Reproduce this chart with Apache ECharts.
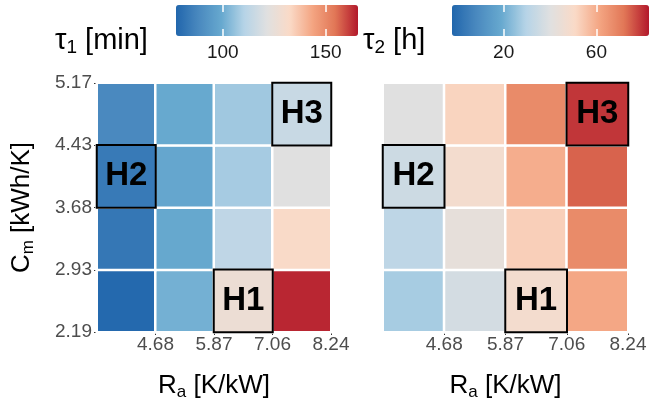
<!DOCTYPE html>
<html>
<head>
<meta charset="utf-8">
<script src="https://cdn.jsdelivr.net/npm/echarts@6/dist/echarts.min.js"></script>
<style>
  html, body { margin: 0; padding: 0; background: #fff; }
  #chart { width: 649px; height: 407px; }
</style>
</head>
<body>
<div id="chart"></div>
<script>
// Tile edges shown on the axes (R_a in K/kW, C_m in kWh/K)
const raEdgeLabels = ['', '4.68', '5.87', '7.06', '8.24'];
const cmEdgeLabels = ['2.19', '2.93', '3.68', '4.43', '5.17'];
// One category per tile between two edges
const raBins = ['3.49-4.68', '4.68-5.87', '5.87-7.06', '7.06-8.24'];
const cmBins = ['2.19-2.93', '2.93-3.68', '3.68-4.43', '4.43-5.17'];

// tau1 [min]: rows go from the lowest C_m bin upward, columns by R_a bin
const tau1Low    = [78.2, 101.2, 126.8, 164.0];
const tau1MidLow = [82.6,  99.0, 112.7, 132.0];
const tau1MidHi  = [83.5,  98.5, 108.2, 121.5];
const tau1High   = [88.4,  99.4, 107.4, 115.3];

// tau2 [h]: same layout
const tau2Low    = [27.5, 36.8, 47.9, 61.0];
const tau2MidLow = [31.7, 42.8, 53.0, 67.4];
const tau2MidHi  = [35.1, 47.9, 59.8, 74.2];
const tau2High   = [40.2, 52.1, 67.4, 79.3];

// Colour-scale limits and legend breaks
const tau1Limits = [77.3, 165.7];
const tau2Limits = [-2.3, 82.7];
const tau1Breaks = [100, 150];
const tau2Breaks = [20, 60];

// Marked houses: [R_a bin index, C_m bin index]
const houseNames = ['H1', 'H2', 'H3'];
const houseRa = [2, 0, 3];
const houseCm = [0, 2, 3];

// Diverging red-blue ramp with a grey centre
const ramp = ['#2166AC', '#4A89BF', '#67A9CF', '#B6D4E7', '#E0E0E0',
              '#FADAC7', '#F4A582', '#E17656', '#B2182B'];

const FONT = "'Liberation Sans', Arial, Helvetica, sans-serif";

function tiles(rows) {
  const out = [];
  rows.forEach((row, cm) => row.forEach((v, ra) => out.push([ra, cm, v])));
  return out;
}
function houses(rows) {
  return houseNames.map((n, i) => ({
    name: n,
    value: [houseRa[i], houseCm[i], rows[houseCm[i]][houseRa[i]]]
  }));
}
const tau1Rows = [tau1Low, tau1MidLow, tau1MidHi, tau1High];
const tau2Rows = [tau2Low, tau2MidLow, tau2MidHi, tau2High];

const richSub = {
  m: { fontSize: 26, fontFamily: FONT, fontWeight: 'normal', color: '#000', lineHeight: 30 },
  s: { fontSize: 17, fontFamily: FONT, fontWeight: 'normal', color: '#000', lineHeight: 17, verticalAlign: 'bottom' }
};
const richLegend = {
  m: { fontSize: 29, fontFamily: FONT, fontWeight: 'normal', color: '#000', lineHeight: 32 },
  s: { fontSize: 19, fontFamily: FONT, fontWeight: 'normal', color: '#000', lineHeight: 17, verticalAlign: 'bottom' }
};

const plotGrids = [
  { left: 97, top: 83, width: 234, height: 249 },
  { left: 383, top: 83, width: 245, height: 249 }
];
const barGrids = [
  { left: 176, top: 5, width: 182, height: 31 },
  { left: 452, top: 5, width: 197, height: 31 }
];

const grid = plotGrids.concat(barGrids).map(g => Object.assign({ outerBoundsMode: 'none', containLabel: false }, g));

const xAxis = [];
const yAxis = [];
[0, 1].forEach(p => {
  // tile axes (hidden)
  xAxis.push({ type: 'category', gridIndex: p, data: raBins, show: false });
  yAxis.push({ type: 'category', gridIndex: p, data: cmBins, show: false });
});
[0, 1].forEach(p => {
  // edge label axes
  xAxis.push({
    type: 'category', gridIndex: p, data: raEdgeLabels, boundaryGap: false, position: 'bottom',
    axisLine: { show: false },
    axisTick: { show: true, length: 3, lineStyle: { color: '#333', width: 1 }, interval: (i) => i > 0 },
    axisLabel: { color: '#4d4d4d', fontSize: 19, fontFamily: FONT, margin: 3, interval: 0 },
    splitLine: { show: false },
    name: '{m|R}{s|a}{m| [K/kW]}', nameLocation: 'middle', nameGap: 39,
    nameTextStyle: { rich: richSub }
  });
  yAxis.push({
    type: 'category', gridIndex: p, data: cmEdgeLabels, boundaryGap: false, position: 'left',
    show: p === 0,
    axisLine: { show: false },
    axisTick: { show: true, length: 3, lineStyle: { color: '#333', width: 1 } },
    axisLabel: { color: '#4d4d4d', fontSize: 19, fontFamily: FONT, margin: 5, interval: 0 },
    splitLine: { show: false },
    name: p === 0 ? '{m|C}{s|m}{m| [kWh/K]}' : '', nameLocation: 'middle', nameGap: 60,
    nameTextStyle: { rich: richSub }
  });
});
// colour-bar break axes
[[tau1Limits, tau1Breaks], [tau2Limits, tau2Breaks]].forEach(([lim, br], k) => {
  const gi = 2 + k;
  xAxis.push({
    type: 'value', gridIndex: gi, min: lim[0], max: lim[1], position: 'bottom', z: 10,
    axisLine: { show: false }, splitLine: { show: false },
    axisTick: { show: true, inside: true, length: 7, customValues: br, lineStyle: { color: '#fff', width: 1.5 } },
    axisLabel: { show: true, customValues: br, color: '#1a1a1a', fontSize: 19, fontFamily: FONT, margin: 7 }
  });
  xAxis.push({
    type: 'value', gridIndex: gi, min: lim[0], max: lim[1], position: 'top', z: 10,
    axisLine: { show: false }, splitLine: { show: false },
    axisTick: { show: true, inside: true, length: 7, customValues: br, lineStyle: { color: '#fff', width: 1.5 } },
    axisLabel: { show: false }
  });
  yAxis.push({ type: 'value', gridIndex: gi, show: false });
});

function tileSeries(rows, p) {
  return {
    type: 'heatmap', xAxisIndex: p, yAxisIndex: p,
    data: tiles(rows),
    itemStyle: { borderColor: '#fff', borderWidth: 2.5 },
    emphasis: { disabled: true }
  };
}
function houseSeries(rows, p) {
  return {
    type: 'heatmap', xAxisIndex: p, yAxisIndex: p, z: 5,
    data: houses(rows),
    itemStyle: { borderColor: '#000', borderWidth: 2 },
    label: { show: true, formatter: (d) => d.name, fontSize: 33, fontWeight: 'bold', color: '#000', fontFamily: FONT },
    emphasis: { disabled: true }
  };
}

const option = {
  backgroundColor: '#fff',
  animation: false,
  title: [
    { text: '{m|τ}{s|1}{m| [min]}', left: 55, top: 25, padding: 0, textStyle: { fontWeight: 'normal', rich: richLegend } },
    { text: '{m|τ}{s|2}{m| [h]}', left: 363, top: 25, padding: 0, textStyle: { fontWeight: 'normal', rich: richLegend } }
  ],
  grid, xAxis, yAxis,
  visualMap: [
    {
      type: 'continuous', min: tau1Limits[0], max: tau1Limits[1], seriesIndex: [0, 1],
      orient: 'horizontal', left: barGrids[0].left, top: barGrids[0].top, padding: 0,
      itemWidth: barGrids[0].height, itemHeight: barGrids[0].width,
      calculable: false, hoverLink: false, text: null, inRange: { color: ramp }
    },
    {
      type: 'continuous', min: tau2Limits[0], max: tau2Limits[1], seriesIndex: [2, 3],
      orient: 'horizontal', left: barGrids[1].left, top: barGrids[1].top, padding: 0,
      itemWidth: barGrids[1].height, itemHeight: barGrids[1].width,
      calculable: false, hoverLink: false, text: null, inRange: { color: ramp }
    }
  ],
  series: [
    tileSeries(tau1Rows, 0), houseSeries(tau1Rows, 0),
    tileSeries(tau2Rows, 1), houseSeries(tau2Rows, 1)
  ]
};

const chart = echarts.init(document.getElementById('chart'), null, { renderer: 'canvas' });
chart.setOption(option);
</script>
</body>
</html>
